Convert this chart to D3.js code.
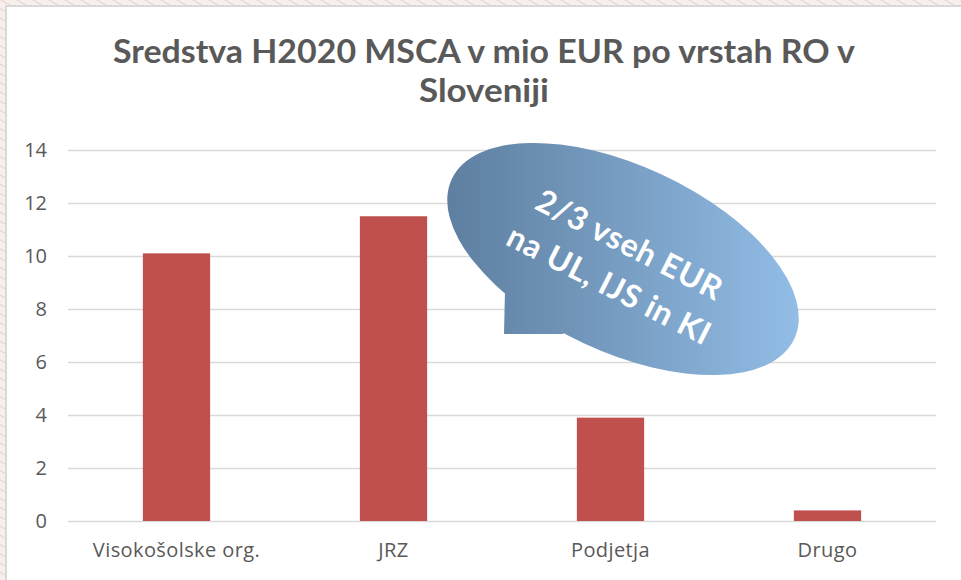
<!DOCTYPE html>
<html><head><meta charset="utf-8">
<script src="https://cdn.jsdelivr.net/npm/d3@7"></script>
<style>body{margin:0;background:#fff}svg{display:block}</style>
</head><body><svg id="c" width="961" height="580"></svg>
<script>
const categories = ["Visokošolske org.", "JRZ", "Podjetja", "Drugo"];
const values = [10.1, 11.5, 3.9, 0.4];
const yTicks = [0, 2, 4, 6, 8, 10, 12, 14];
const titleLines = ["Sredstva H2020 MSCA v mio EUR po vrstah RO v", "Sloveniji"];
const calloutLines = ["2/3 vseh EUR", "na UL, IJS in KI"];

const svg = d3.select("#c");
const W = 961, H = 580;
const defs = svg.append("defs");
const pat = defs.append("pattern").attr("id","hatch").attr("patternUnits","userSpaceOnUse")
  .attr("width",8).attr("height",8).attr("patternTransform","rotate(-60)");
pat.append("rect").attr("width",8).attr("height",8).attr("fill","#f8efec");
pat.append("line").attr("x1",0).attr("y1",0).attr("x2",0).attr("y2",8).attr("stroke","#d9c9c6").attr("stroke-width",1.5);
svg.append("rect").attr("width",W).attr("height",H).attr("fill","url(#hatch)");
// panel
svg.append("rect").attr("x",6).attr("y",6).attr("width",W).attr("height",H).attr("fill","#fff")
  .attr("stroke","#d9d9d9").attr("stroke-width",2);

// title
const title = svg.append("g").attr("font-family","Lato, sans-serif").attr("font-weight","bold")
  .attr("font-size",32).attr("fill","#595959").attr("text-anchor","middle");
title.append("text").attr("x",484).attr("y",63).attr("textLength",742).attr("lengthAdjust","spacingAndGlyphs").text(titleLines[0]);
title.append("text").attr("x",484).attr("y",102).attr("textLength",130).attr("lengthAdjust","spacingAndGlyphs").text(titleLines[1]);

const x = d3.scaleBand().domain(categories).range([68, 936]).paddingInner(0.69).paddingOuter(0.345);
const y = d3.scaleLinear().domain([0, 14]).range([521, 150]);

const yAxis = svg.append("g").attr("transform","translate(68,0)")
  .call(d3.axisLeft(y).tickValues(yTicks).tickSize(-868).tickPadding(21).tickFormat(d3.format("d")));
yAxis.select(".domain").remove();
yAxis.selectAll("line").attr("stroke","#d9d9d9").attr("stroke-width",1.5);
yAxis.selectAll("text").attr("font-family","'Open Sans', sans-serif").attr("font-size",20).attr("fill","#595959");

svg.append("g").selectAll("rect").data(values).join("rect")
  .attr("x",(d,i)=>x(categories[i])).attr("width",x.bandwidth())
  .attr("y",d=>y(d)).attr("height",d=>y(0)-y(d)).attr("fill","#c0504d");

const xAxis = svg.append("g").attr("transform","translate(0,521)")
  .call(d3.axisBottom(x).tickSize(0).tickPadding(22));
xAxis.select(".domain").remove();
xAxis.selectAll("text").attr("font-family","'Open Sans', sans-serif").attr("font-size",20)
  .attr("letter-spacing",0.4).attr("fill","#595959");

// callout (drawn in page coordinates so the gradient runs left to right)
const grad = defs.append("linearGradient").attr("id","bg").attr("gradientUnits","userSpaceOnUse")
  .attr("x1",448).attr("y1",0).attr("x2",800).attr("y2",0);
grad.append("stop").attr("offset",0).attr("stop-color","#5e7fa0");
grad.append("stop").attr("offset",1).attr("stop-color","#92bde6");
const cx = 623, cy = 259, rx = 189, ry = 93, rot = 25 * Math.PI / 180;
const px = cx - rx * Math.cos(rot), py = cy - rx * Math.sin(rot);
const qx = cx + rx * Math.cos(rot), qy = cy + rx * Math.sin(rot);
const cg = svg.append("g");
cg.append("path")
  .attr("d", `M${px},${py} A${rx},${ry} 25 1 0 ${qx},${qy} A${rx},${ry} 25 1 0 ${px},${py} Z`)
  .attr("fill","url(#bg)");
cg.append("path").attr("d","M505,290 L504,334 L563,334 L600,300 L540,270 Z").attr("fill","url(#bg)");
const ct = cg.append("g").attr("transform","translate(621,262) rotate(27)")
  .attr("font-family","Lato, sans-serif").attr("font-weight","bold").attr("font-size",32)
  .attr("letter-spacing",0.8).attr("fill","#fff").attr("text-anchor","middle");
ct.append("text").attr("x",0).attr("y",-8).text(calloutLines[0]);
ct.append("text").attr("x",0).attr("y",37).text(calloutLines[1]);
</script></body></html>
